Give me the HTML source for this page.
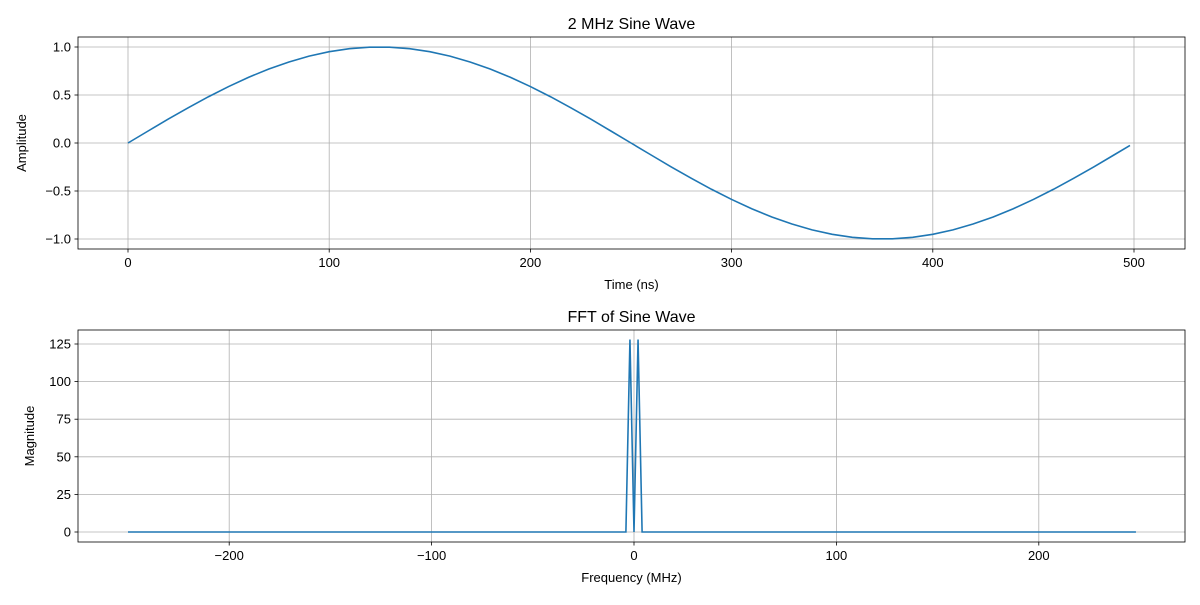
<!DOCTYPE html>
<html><head><meta charset="utf-8"><style>
body{margin:0;background:#fff;}
svg text{font-family:"Liberation Sans","DejaVu Sans",sans-serif;fill:#000;}
</style></head><body>
<svg id="chart" width="1200" height="600" xmlns="http://www.w3.org/2000/svg">
<rect width="1200" height="600" fill="#fff"/>
<g id="top"></g>
<g id="bot"></g>
</svg>
<script>
// Sine wave data (time in ns, amplitude)
const sineTimes = [0,10,20,30,40,50,60,70,80,90,100,110,120,130,140,150,160,170,180,190,200,210,220,230,240,250,260,270,280,290,300,310,320,330,340,350,360,370,380,390,400,410,420,430,440,450,460,470,480,490,498];
const sineValues = [0,0.125,0.249,0.368,0.482,0.588,0.685,0.771,0.844,0.905,0.951,0.982,0.998,0.998,0.982,0.951,0.905,0.844,0.771,0.685,0.588,0.482,0.368,0.249,0.125,0,-0.125,-0.249,-0.368,-0.482,-0.588,-0.685,-0.771,-0.844,-0.905,-0.951,-0.982,-0.998,-0.998,-0.982,-0.951,-0.905,-0.844,-0.771,-0.685,-0.588,-0.482,-0.368,-0.249,-0.125,-0.025];
const sineXTicks = [0,100,200,300,400,500];
const sineYTicks = [-1.0,-0.5,0.0,0.5,1.0];
// FFT data
const fftFreqs = [-250,-4,-2,0,2,4,248];
const fftMags = [0,0,128,0,128,0,0];
const fftXTicks = [-200,-100,0,100,200];
const fftYTicks = [0,25,50,75,100,125];

const NS='http://www.w3.org/2000/svg';
function el(tag,attrs,parent,text){const e=document.createElementNS(NS,tag);for(const k in attrs)e.setAttribute(k,attrs[k]);if(text!==undefined)e.textContent=text;parent.appendChild(e);return e;}
function fmt(v,dec){let s=v.toFixed(dec);return s.replace('-','\u2212');}

function panel(g,cfg){
  const {L,R,T,B,xs,ys,xTicks,yTicks,xDec,yDec,xs_data,ys_data,title,xlabel,ylabel}=cfg;
  for(const t of xTicks){const x=xs(t);
    const gl=el('line',{x1:x,x2:x,y1:T,y2:B,stroke:'#b0b0b0','stroke-width':0.8},g);
    
    el('line',{x1:x,x2:x,y1:B,y2:B+3.5,stroke:'#000','stroke-width':0.8},g);
    const tx=el('text',{x:x,y:B+18,'text-anchor':'middle','font-size':13},g,fmt(t,xDec));
    }
  for(const t of yTicks){const y=ys(t);
    const gl=el('line',{x1:L,x2:R,y1:y,y2:y,stroke:'#b0b0b0','stroke-width':0.8},g);
    
    el('line',{x1:L-3.5,x2:L,y1:y,y2:y,stroke:'#000','stroke-width':0.8},g);
    const tx=el('text',{x:L-7,y:y+4.5,'text-anchor':'end','font-size':13},g,fmt(t,yDec));
    }
  const pts=xs_data.map((v,i)=>xs(v).toFixed(2)+','+ys(ys_data[i]).toFixed(2)).join(' ');
  const line=el('polyline',{points:pts,fill:'none',stroke:'#1f77b4','stroke-width':1.6},g);
  
  const fr=el('rect',{x:L,y:T,width:R-L,height:B-T,fill:'none',stroke:'#000','stroke-width':0.8},g);
  
  const ti=el('text',{x:(L+R)/2,y:T-8,'text-anchor':'middle','font-size':16},g,title);
  
  const xl=el('text',{x:(L+R)/2,y:B+40,'text-anchor':'middle','font-size':13},g,xlabel);
  
  const yx=cfg.ylx,yy=(T+B)/2;
  const yl=el('text',{x:yx,y:yy,'text-anchor':'middle','font-size':13,transform:`rotate(-90 ${yx} ${yy})`},g,ylabel);
  
}
panel(document.getElementById('top'),{L:78,R:1185,T:37,B:249,
  xs:v=>128+v*2.012,ys:v=>143-v*96,xTicks:sineXTicks,yTicks:sineYTicks,xDec:0,yDec:1,
  xs_data:sineTimes,ys_data:sineValues,title:'2 MHz Sine Wave',xlabel:'Time (ns)',ylabel:'Amplitude',ylx:26});
panel(document.getElementById('bot'),{L:78,R:1185,T:330,B:542,
  xs:v=>634+v*2.024,ys:v=>532-v*1.504,xTicks:fftXTicks,yTicks:fftYTicks,xDec:0,yDec:0,
  xs_data:fftFreqs,ys_data:fftMags,title:'FFT of Sine Wave',xlabel:'Frequency (MHz)',ylabel:'Magnitude',ylx:34});
</script>
</body></html>
